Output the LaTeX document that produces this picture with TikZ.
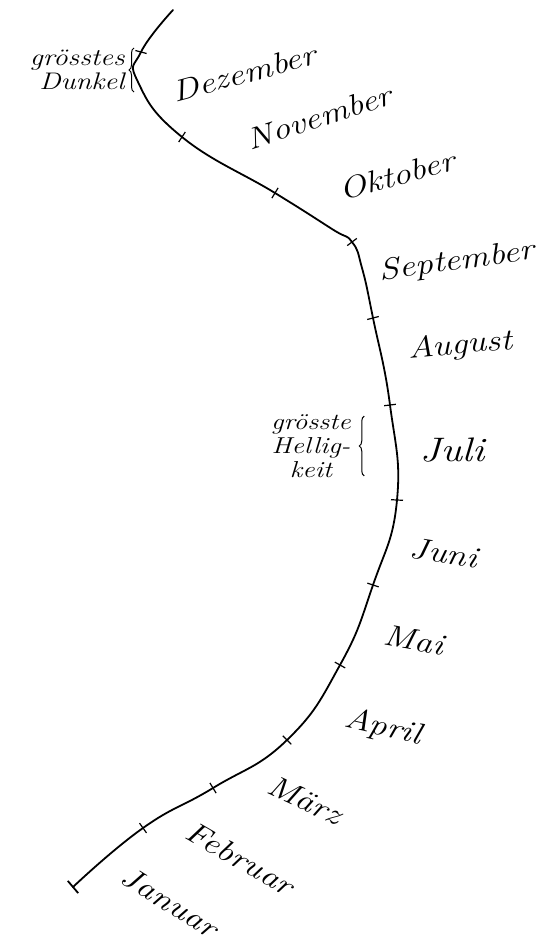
\documentclass[tikz,border=0pt]{standalone}
\usepackage{fontspec}
\setmainfont{Latin Modern Roman}[FakeStretch=1.2]
\usetikzlibrary{decorations.pathreplacing}

\begin{document}
\begin{tikzpicture}[x=0.5pt, y=-0.5pt,
        curveline/.style={draw=black, line width=0.9pt, line cap=round},
        tickmark/.style={draw=black, line width=0.6pt},
        monthlabel/.style={inner sep=0pt, font=\fontsize{15}{18}\selectfont\itshape},
        notelabel/.style={inner sep=0pt, font=\fontsize{11.5}{12}\selectfont\itshape},
        bracemark/.style={draw=black, line width=0.5pt, decorate, decoration={brace, amplitude=2.5pt}}]

        \useasboundingbox[fill=white] (0,0) rectangle (542,942);

        % Monatsanfaenge auf der Kurve
        \coordinate (jan) at (73,887);
        \coordinate (feb) at (143,828);
        \coordinate (mar) at (213,788);
        \coordinate (apr) at (287,740);
        \coordinate (mai) at (340,665);
        \coordinate (jun) at (373,585);
        \coordinate (jul) at (397,500);
        \coordinate (aug) at (390,405);
        \coordinate (sep) at (373,318);
        \coordinate (knick1) at (362,268);
        \coordinate (okt) at (352,242);
        \coordinate (knick2) at (332,229);
        \coordinate (nov) at (275,193);
        \coordinate (dez) at (182,137);
        \coordinate (bogen) at (138,82);
        \coordinate (dunkel) at (141,52);
        \coordinate (ende) at (173,10);

        \draw[curveline] plot[smooth, tension=0.8] coordinates {(jan) (feb) (mar) (apr) (mai) (jun) (jul) (aug) (sep) (knick1) (okt) (knick2) (nov) (dez) (bogen) (dunkel) (ende)};

        \foreach \p/\dx/\dy in {feb/3.5/4.9, mar/3.1/5.1, apr/4.2/4.3, mai/5.2/2.9, jun/5.7/1.9, jul/6/0.3, aug/5.9/-0.7, sep/5.8/-1.5, okt/4.8/-3.6, nov/3.1/-5.1, dez/3.3/-5, dunkel/5.6/1.5}
            \draw[tickmark] (\p) ++(\dx,\dy) -- ++(-2*\dx,-2*\dy);
        \draw[tickmark, line width=0.9pt] (jan) ++(5.2,6.1) -- ++(-10.4,-12.2);

        \node[monthlabel, rotate=15] (ldez) at (244,73) {Dezember};
        \node[monthlabel, rotate=18] (lnov) at (319,117) {November};
        \node[monthlabel, rotate=15] (lokt) at (397,175) {Oktober};
        \node[monthlabel, rotate=8] (lsep) at (457,262) {September};
        \node[monthlabel, rotate=5] (laug) at (460,346) {August};
        \node[monthlabel, font=\fontsize{17}{18}\selectfont\itshape] (ljul) at (452,450) {Juli};
        \node[monthlabel, rotate=-9] (ljun) at (444,553) {Juni};
        \node[monthlabel, rotate=-10] (lmai) at (414,640) {Mai};
        \node[monthlabel, rotate=-13] (lapr) at (383,728) {April};
        \node[monthlabel, rotate=-25] (lmar) at (305,800) {März};
        \node[monthlabel, rotate=-30] (lfeb) at (240,858) {Februar};
        \node[monthlabel, rotate=-32] (ljan) at (170,902) {Januar};

        \node[notelabel, align=right, anchor=east, font=\fontsize{12}{8.5}\selectfont\itshape] (ldunkel) at (125,70) {grösstes\\Dunkel};
        \draw[bracemark] ([xshift=4.5pt, yshift=-1pt]ldunkel.south east) -- ([xshift=4.5pt, yshift=1pt]ldunkel.north east);

        \node[notelabel, align=center] (lhell) at (311,446) {grösste\\Hellig-\\keit};
        \draw[bracemark] ([xshift=6.5pt, yshift=1pt]lhell.south east) -- ([xshift=6.5pt, yshift=-1pt]lhell.north east);
\end{tikzpicture}
\end{document}
